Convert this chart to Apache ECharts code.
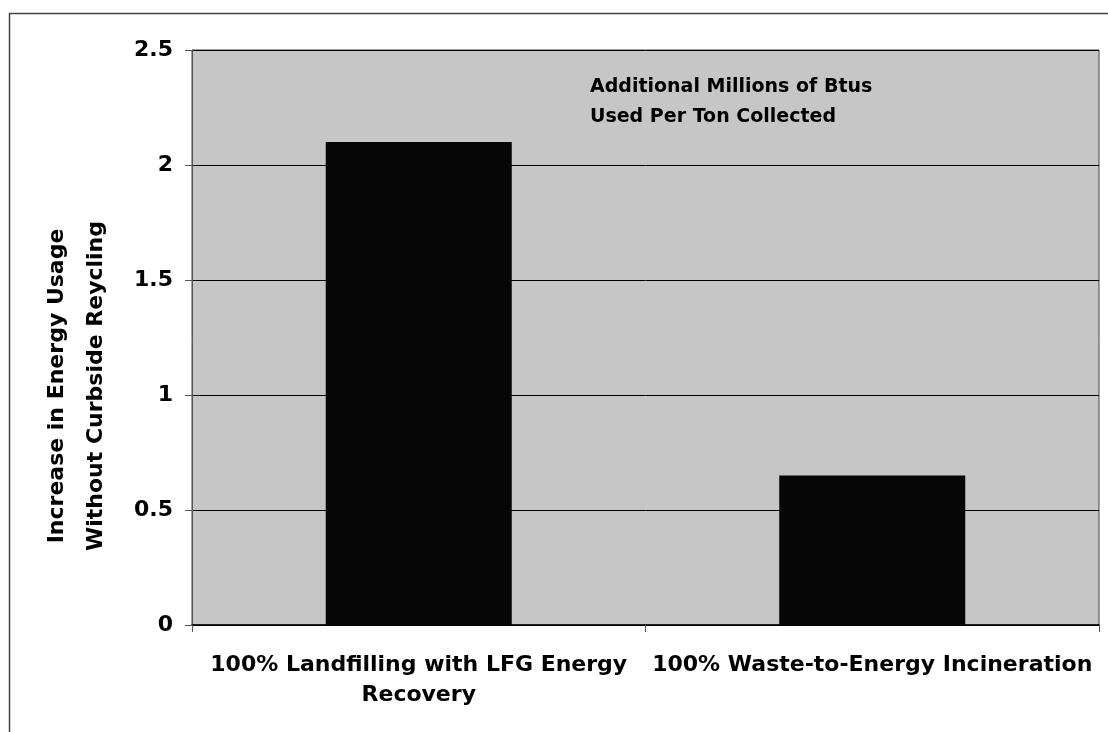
<!DOCTYPE html>
<html>
<head>
<meta charset="utf-8">
<script src="https://cdn.jsdelivr.net/npm/echarts@6/dist/echarts.min.js"></script>
<style>
  html, body { margin: 0; padding: 0; background: #fff; }
  #main { width: 1108px; height: 732px; }
</style>
</head>
<body>
<div id="main"></div>
<script>
// data
var categories = ['100% Landfilling with LFG Energy\nRecovery', '100% Waste-to-Energy Incineration'];
var energyIncrease = [2.1, 0.65];
var yTicks = [0, 0.5, 1, 1.5, 2, 2.5];
var yTitleLines = ['Increase in Energy Usage', 'Without Curbside Reycling'];
var noteLines = ['Additional Millions of Btus', 'Used Per Ton Collected'];

var font = 'DejaVu Sans';
var myChart = echarts.init(document.getElementById('main'));

myChart.setOption({
    animation: false,
    grid: {
        left: 192,
        right: 9,
        top: 50,
        bottom: 107,
        show: true,
        backgroundColor: '#c6c6c6',
        borderColor: '#444',
        borderWidth: 1
    },
    xAxis: {
        type: 'category',
        data: categories,
        axisLine: { lineStyle: { color: '#000', width: 1.5 } },
        axisTick: { show: true, length: 7, lineStyle: { color: '#555' } },
        axisLabel: {
            margin: 25,
            color: '#000',
            fontFamily: font,
            fontWeight: 'bold',
            fontSize: 22,
            lineHeight: 30,
            interval: 0
        }
    },
    yAxis: {
        type: 'value',
        min: yTicks[0],
        max: yTicks[yTicks.length - 1],
        interval: 0.5,
        axisLine: { show: true, lineStyle: { color: '#555' } },
        axisTick: { show: true, length: 7, lineStyle: { color: '#555' } },
        axisLabel: {
            margin: 19,
            color: '#000',
            fontFamily: font,
            fontWeight: 'bold',
            fontSize: 22
        },
        splitLine: { lineStyle: { color: '#000', width: 1 } }
    },
    series: [{
        type: 'bar',
        data: energyIncrease,
        barWidth: 186,
        itemStyle: { color: '#060606' }
    }],
    graphic: [
        {
            type: 'rect',
            left: 7,
            top: 11,
            shape: { width: 1200, height: 800 },
            style: { fill: 'none', stroke: '#444', lineWidth: 1.5 },
            silent: true
        },
        {
            // rotated y axis title, sits a bit below the plot's middle like the original
            type: 'text',
            x: 77,
            y: 386,
            rotation: Math.PI / 2,
            style: {
                text: yTitleLines.join('\n'),
                fill: '#000',
                font: 'bold 22px "' + font + '"',
                lineHeight: 39,
                textAlign: 'center',
                textVerticalAlign: 'middle'
            }
        },
        {
            type: 'text',
            left: 590,
            top: 72,
            style: {
                text: noteLines.join('\n'),
                fill: '#000',
                font: 'bold 19px "' + font + '"',
                lineHeight: 30
            }
        }
    ]
});
</script>
</body>
</html>
